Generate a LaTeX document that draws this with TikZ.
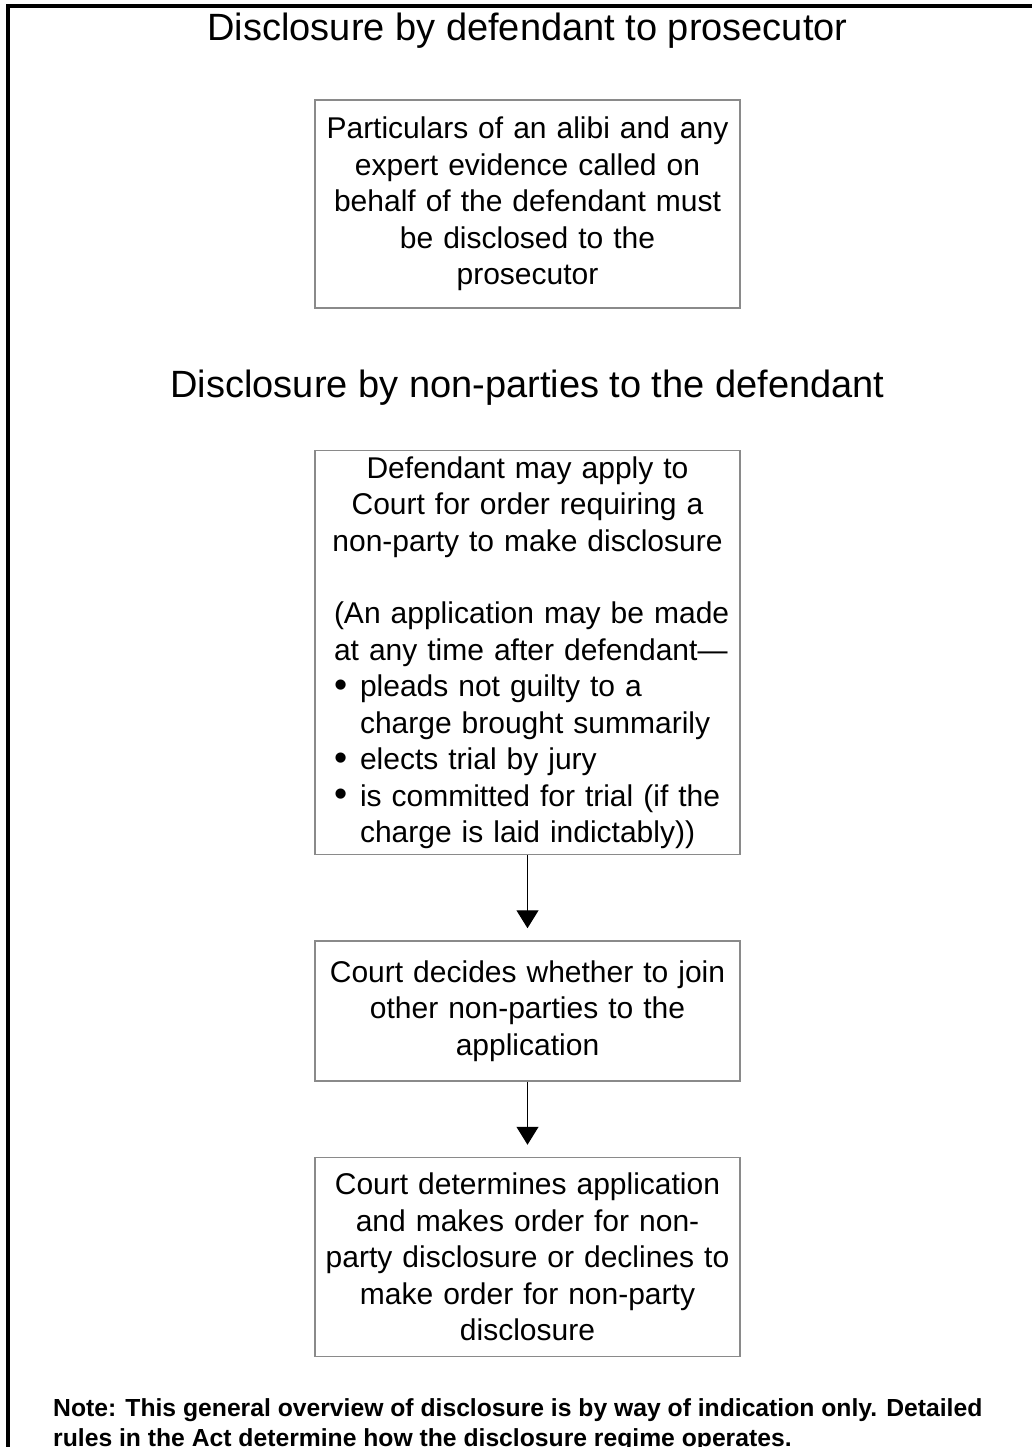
\documentclass[tikz,border=0pt]{standalone}
\usepackage{fontspec}
\setmainfont{Liberation Sans}
\usepackage{graphicx}
\usepackage{tikz}
\usetikzlibrary{arrows.meta,positioning}
\definecolor{boxLine}{HTML}{8A8A8A}
\setlength{\parindent}{0pt}
\newcommand{\bul}{\makebox[26pt][l]{\raisebox{-.5pt}{\scalebox{1.25}{\textbullet}}}}

\begin{document}
\begin{tikzpicture}[x=1pt,y=-1pt,
    box/.style={draw=boxLine,line width=1.5pt,fill=white,text width=407pt,inner xsep=9pt,inner ysep=0pt,align=center,font=\fontsize{30}{36.5}\selectfont},
    heading/.style={anchor=base,font=\fontsize{38}{45}\selectfont},
    flow/.style={line width=1.2pt,-{Triangle[length=18pt,width=22pt]},shorten >=12pt}]
  \useasboundingbox (0,0) rectangle (1032,1447);
  \draw[line width=3.5pt] (8,1447) -- (8,6) -- (1032,6);

  \node[heading] (headA) at (527.5,41) {Disclosure by defendant to prosecutor};
  \node[box,minimum height=208pt] (alibi) at (527.5,204) {
    Particulars of an alibi and any\\
    expert evidence called on\\
    behalf of the defendant must\\
    be disclosed to the\\
    prosecutor
  };

  \node[heading] (headB) at (527.5,397) {Disclosure by non-parties to the defendant};
  \node[box,align=left,minimum height=404pt,below=141pt of alibi] (apply) {
    \centering
    Defendant may apply to\\
    Court for order requiring a\\
    non-party to make disclosure\par
    \vspace{36pt}
    \raggedright\leftskip=10pt
    (An application may be made\\
    at any time after defendant---\\
    \bul pleads not guilty to a\\
    \hspace*{26pt}charge brought summarily\\
    \bul elects trial by jury\\
    \bul is committed for trial (if the\\
    \hspace*{26pt}charge is laid indictably))\par
  };
  \node[box,minimum height=140pt,below=85pt of apply] (join) {
    Court decides whether to join\\
    other non-parties to the\\
    application
  };
  \node[box,minimum height=199pt,below=75pt of join] (decide) {
    Court determines application\\
    and makes order for non-\\
    party disclosure or declines to\\
    make order for non-party\\
    disclosure
  };

  \draw[flow] (apply) -- (join);
  \draw[flow] (join) -- (decide);

  \node[anchor=base west,align=left,inner sep=0pt,font=\bfseries\fontsize{24.7}{29.5}\selectfont] (note) at (53,1446) {
    Note: This general overview of disclosure is by way of indication only. Detailed\\
    rules in the Act determine how the disclosure regime operates.
  };
\end{tikzpicture}
\end{document}
